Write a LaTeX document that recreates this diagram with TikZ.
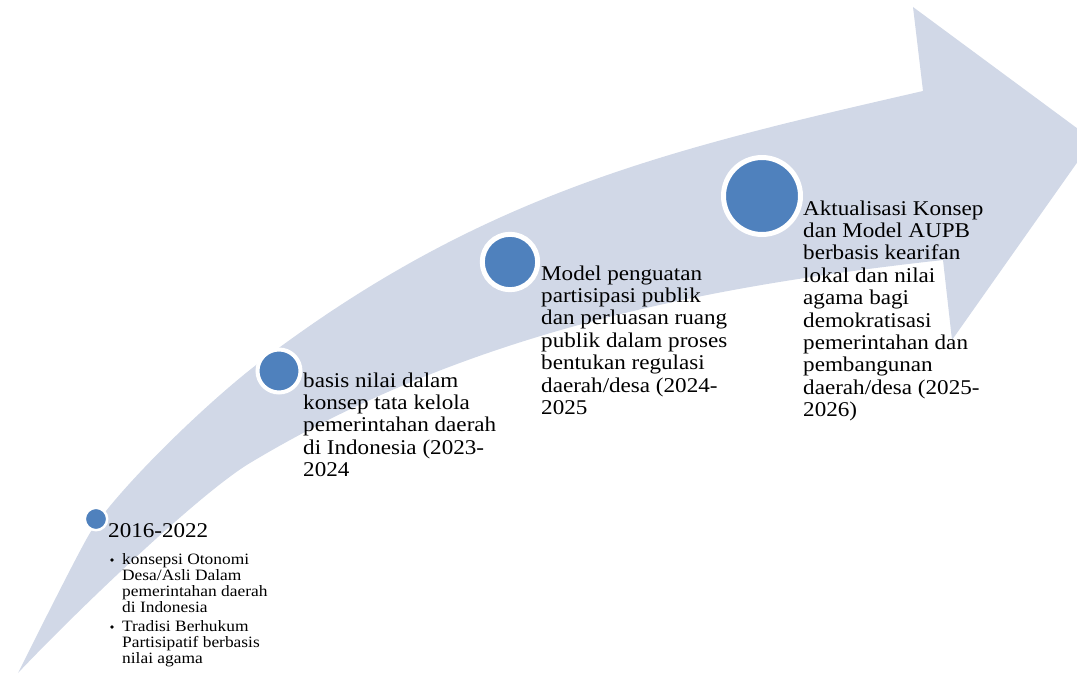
\documentclass[tikz,border=0pt]{standalone}
\usepackage{fontspec}
\setmainfont[FakeStretch=1.1]{Liberation Serif}
\definecolor{bandc}{HTML}{D1D8E7}
\definecolor{dotc}{HTML}{4F81BD}
\tikzset{
  maintxt/.style={anchor=base west, inner sep=0pt, align=left, font=\fontsize{21}{22.4}\selectfont},
  smalltxt/.style={anchor=base west, inner sep=0pt, align=left, font=\fontsize{15.8}{16.3}\selectfont},
  milestone/.style={circle, fill=dotc, draw=white, inner sep=0pt},
  bulletdot/.style={circle, fill=black, inner sep=0pt, minimum size=3.6pt}
}
\begin{document}
\begin{tikzpicture}[x=1pt,y=-1pt]
\useasboundingbox (0,0) rectangle (1077,674);
\clip (0,0) rectangle (1077,674);
% curved arrow band
\fill[bandc] (18,673) .. controls (29.2,650.6) and (79.4,550) .. (90,533)
  .. controls (116.5,490.6) and (204.3,404.4) .. (260,362)
  .. controls (482.9,192.6) and (669.5,149.2) .. (923,91)
  -- (913,7) -- (1093,140) -- (952,340) -- (943,260)
  .. controls (694.5,287.5) and (464.3,334.5) .. (250,463)
  .. controls (198.6,493.8) and (72.9,614.8) .. (18,673) -- cycle;
% milestones
\node[milestone, minimum size=22.4pt, line width=2.5pt] (m1) at (96,519) {};
\node[milestone, minimum size=43pt, line width=4pt] (m2) at (279,371) {};
\node[milestone, minimum size=55.4pt, line width=5pt] (m3) at (510,262) {};
\node[milestone, minimum size=77pt, line width=5pt] (m4) at (762,196) {};
% texts (anchor = baseline of last line)
\node[maintxt] (t1) at (108,537) {2016-2022};
\node[bulletdot] (d1) at (112,560) {};
\node[smalltxt] (b1) at (122,612.9) {konsepsi Otonomi\\Desa/Asli Dalam\\pemerintahan daerah\\di Indonesia};
\node[bulletdot] (d2) at (112,627) {};
\node[smalltxt] (b2) at (122,663.6) {Tradisi Berhukum\\Partisipatif berbasis\\nilai agama};
\node[maintxt] (t2) at (303,476.6) {basis nilai dalam\\konsep tata kelola\\pemerintahan daerah\\di Indonesia (2023-\\2024};
\node[maintxt] (t3) at (541,414.4) {Model penguatan\\partisipasi publik\\dan perluasan ruang\\publik dalam proses\\bentukan regulasi\\daerah/desa (2024-\\2025};
\node[maintxt] (t4) at (803,416.6) {Aktualisasi Konsep\\dan Model AUPB\\berbasis kearifan\\lokal dan nilai\\agama bagi\\demokratisasi\\pemerintahan dan\\pembangunan\\daerah/desa (2025-\\2026)};
\end{tikzpicture}
\end{document}
